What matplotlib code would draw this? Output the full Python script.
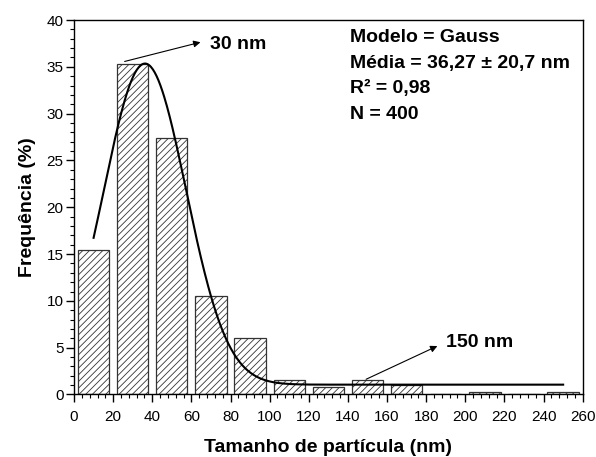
import numpy as np
import matplotlib
matplotlib.use("Agg")
import matplotlib.pyplot as plt
from matplotlib.ticker import MultipleLocator

# histogram (bin centres, nm) and frequency (%)
bin_centers = [10, 30, 50, 70, 90, 110, 130, 150, 170, 190, 210, 230, 250]
frequency = [15.4, 35.25, 27.35, 10.5, 6.0, 1.5, 0.75, 1.5, 1.0, 0.0, 0.3, 0.0, 0.3]
bar_width = 16

# Gauss fit parameters
gauss_xc = 36.27
gauss_sigma = 21.0
gauss_amp = 34.3
gauss_y0 = 1.05
fit_range = (10, 250)

xticks = list(range(0, 261, 20))
yticks = list(range(0, 41, 5))

info_lines = ["Modelo = Gauss", "Média = 36,27 ± 20,7 nm", "R² = 0,98", "N = 400"]

plt.rcParams["font.family"] = ["Liberation Sans", "DejaVu Sans"]
plt.rcParams["hatch.linewidth"] = 0.6

fig = plt.figure(figsize=(5.96, 4.57), dpi=100)
ax = fig.add_axes([0.1242, 0.1368, 0.9777 - 0.1242, 0.9562 - 0.1368])

ax.bar(bin_centers, frequency, width=bar_width, facecolor="white",
       edgecolor="#333333", linewidth=0.9, hatch="/////", zorder=2)

xs = np.linspace(fit_range[0], fit_range[1], 500)
ys = gauss_y0 + gauss_amp * np.exp(-(xs - gauss_xc) ** 2 / (2 * gauss_sigma ** 2))
ax.plot(xs, ys, color="black", linewidth=1.5, zorder=3)

ax.set_xlim(0, 260)
ax.set_ylim(0, 40)
ax.set_xticks(xticks)
ax.set_yticks(yticks)
ax.xaxis.set_minor_locator(MultipleLocator(4))
ax.yaxis.set_minor_locator(MultipleLocator(1))
ax.tick_params(which="major", direction="out", length=5.5, width=1, labelsize=11)
ax.tick_params(axis="x", which="major", pad=5.5)
ax.tick_params(axis="y", which="major", pad=2)
ax.tick_params(which="minor", direction="out", length=3, width=0.8)
for s in ax.spines.values():
    s.set_linewidth(1.0)

ax.set_xlabel("Tamanho de partícula (nm)", fontsize=14, fontweight="bold", labelpad=11)
ax.set_ylabel("Frequência (%)", fontsize=14, fontweight="bold", labelpad=7.5)

# annotations
ax.annotate("", xy=(66, 37.7), xytext=(24.5, 35.5),
            arrowprops=dict(arrowstyle="-|>", color="black", lw=0.8, mutation_scale=10))
ax.text(69.5, 37.4, "30 nm", fontsize=14, fontweight="bold", va="center", ha="left")
ax.annotate("", xy=(187, 5.3), xytext=(148, 1.5),
            arrowprops=dict(arrowstyle="-|>", color="black", lw=0.8, mutation_scale=10))
ax.text(190, 5.6, "150 nm", fontsize=14, fontweight="bold", va="center", ha="left")

for i, line in enumerate(info_lines):
    ax.text(141, 38.1 - i * 2.73, line, fontsize=14, fontweight="bold",
            va="center", ha="left")

fig.savefig("out.png", dpi=100)
